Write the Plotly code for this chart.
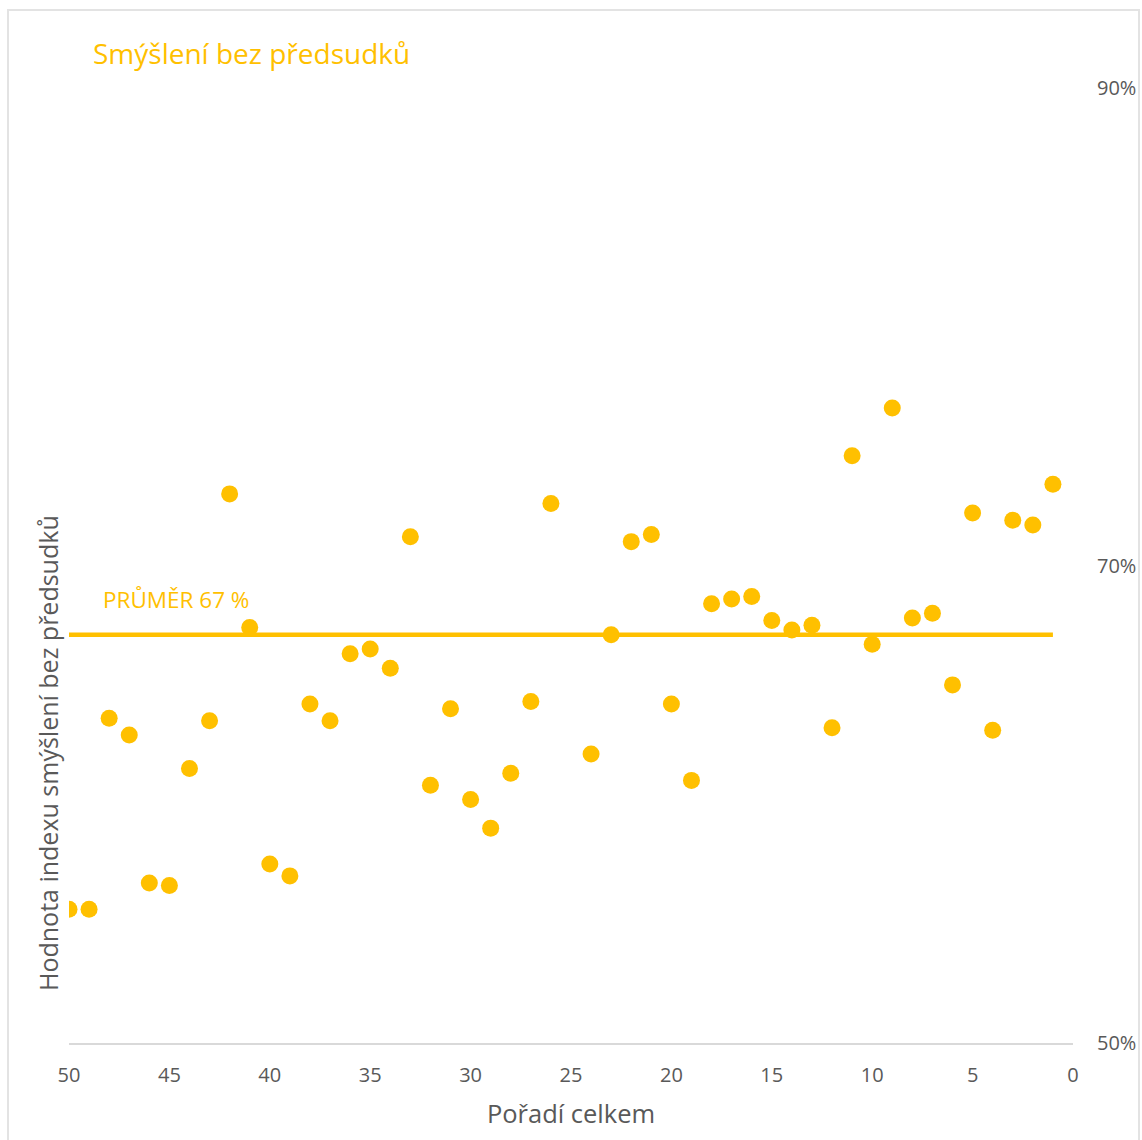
import plotly.graph_objects as go

# Overall ranking (x) and index value in percent (y)
rank = [50, 49, 48, 47, 46, 45, 44, 43, 42, 41, 40, 39, 38, 37, 36, 35, 34, 33, 32, 31,
        30, 29, 28, 27, 26, 24, 23, 22, 21, 20, 19, 18, 17, 16, 15, 14, 13, 12, 11, 10,
        9, 8, 7, 6, 5, 4, 3, 2, 1]
index_value = [55.6, 55.6, 63.6, 62.9, 56.7, 56.6, 61.5, 63.5, 73.0, 67.4, 57.5, 57.0, 64.2, 63.5,
               66.3, 66.5, 65.7, 71.2, 60.8, 64.0, 60.2, 59.0, 61.3, 64.3, 72.6, 62.1, 67.1, 71.0,
               71.3, 64.2, 61.0, 68.4, 68.6, 68.7, 67.7, 67.3, 67.5, 63.2, 74.6, 66.7, 76.6, 67.8,
               68.0, 65.0, 72.2, 63.1, 71.9, 71.7, 73.4]

mean_value = 67.1
mean_label = "PRŮMĚR 67 %"
x_ticks = [50, 45, 40, 35, 30, 25, 20, 15, 10, 5, 0]
y_ticks = [50, 70, 90]

YELLOW = "#FFC000"
GRAY_TEXT = "#595959"
FONT = "Open Sans"

W, H = 1142, 1140
L, R, T, B = 69, 69, 88, 97
pw, ph = W - L - R, H - T - B


def px_x(p):
    return (p - L) / pw


def px_y(p):
    return (H - B - p) / ph


fig = go.Figure()

# average line
fig.add_trace(go.Scatter(
    x=[rank[0], rank[-1]], y=[mean_value, mean_value], mode="lines",
    line=dict(color=YELLOW, width=4.5), hoverinfo="skip", showlegend=False,
))

fig.add_trace(go.Scatter(
    x=rank, y=index_value, mode="markers",
    marker=dict(color=YELLOW, size=17, line=dict(width=0)),
    showlegend=False,
))

fig.update_layout(
    width=W, height=H,
    margin=dict(l=L, r=R, t=T, b=B),
    paper_bgcolor="white", plot_bgcolor="white",
    font=dict(family=FONT, color=GRAY_TEXT),
    xaxis=dict(
        range=[50, 0], tickvals=x_ticks, ticktext=[str(v) for v in x_ticks],
        showgrid=False, zeroline=False, automargin=False,
        showline=True, linecolor="#D9D9D9", linewidth=1.5,
        ticks="", tickfont=dict(size=20, color=GRAY_TEXT), ticklabelstandoff=13,
        title=dict(text="Pořadí celkem", font=dict(size=25.5, color=GRAY_TEXT), standoff=18),
    ),
    yaxis=dict(
        range=[50, 90], tickvals=y_ticks, ticktext=[f"{v}%" for v in y_ticks],
        side="right", showgrid=False, zeroline=False, showline=False, automargin=False,
        ticks="", tickfont=dict(size=20, color=GRAY_TEXT), ticklabelstandoff=23,
    ),
    shapes=[dict(
        type="rect", xref="paper", yref="paper",
        x0=px_x(8), x1=px_x(1139), y0=px_y(1145), y1=px_y(10),
        line=dict(color="#E3E3E3", width=2), fillcolor="rgba(0,0,0,0)", layer="below",
    )],
    annotations=[
        dict(text="Smýšlení bez předsudků", xref="paper", yref="paper",
             x=px_x(91), y=px_y(53), xanchor="left", yanchor="middle",
             showarrow=False, font=dict(size=28, color=YELLOW, family=FONT)),
        dict(text="Hodnota indexu smýšlení bez předsudků", xref="paper", yref="paper",
             x=px_x(48), y=px_y(753), xanchor="center", yanchor="middle", textangle=-90,
             showarrow=False, font=dict(size=25, color=GRAY_TEXT, family=FONT)),
        dict(text=mean_label, xref="paper", yref="y",
             x=px_x(101), y=mean_value, xanchor="left", yanchor="bottom", yshift=18,
             showarrow=False, font=dict(size=22.5, color=YELLOW, family=FONT)),
    ],
)

fig.write_html("out.html")
